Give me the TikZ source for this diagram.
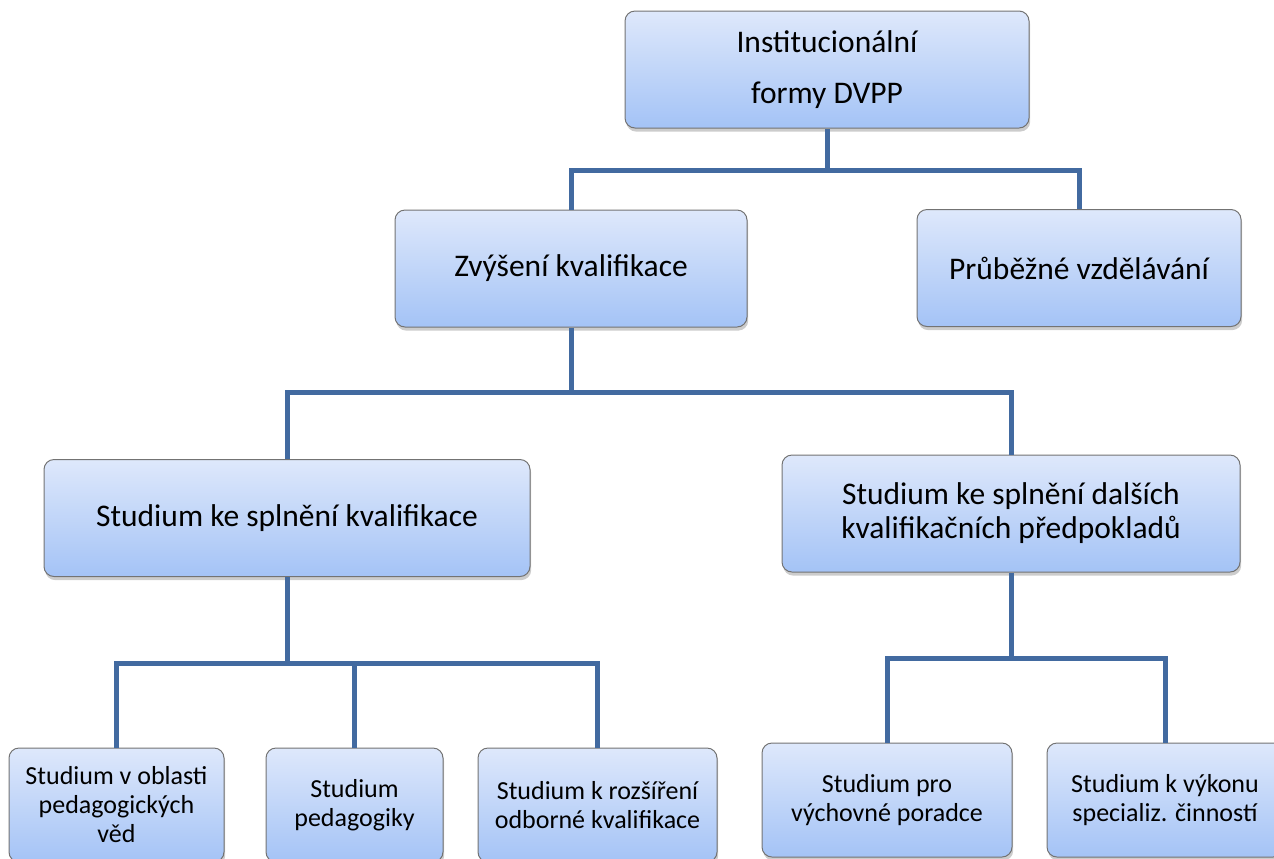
\documentclass[tikz,border=0pt]{standalone}
\usepackage{fontspec}
\setmainfont{Carlito}
\usetikzlibrary{shadows}
\definecolor{linka}{RGB}{66,106,160}
\definecolor{horni}{RGB}{222,232,251}
\definecolor{dolni}{RGB}{164,195,246}
\begin{document}
\begin{tikzpicture}[x=0.5pt,y=-0.5pt,
dvbox/.style={draw=black!55,line width=0.5pt,rounded corners=5pt,top color=horni,bottom color=dolni,
 drop shadow={shadow xshift=0.6pt,shadow yshift=-1.8pt,opacity=0.4},align=center,inner sep=2pt,
 minimum height=58.5pt,font=\fontsize{15.75}{17}\selectfont},
smallbox/.style={dvbox,minimum height=57pt,font=\fontsize{13}{14.5}\selectfont},
spoj/.style={draw=linka,line width=2.5pt}]
\useasboundingbox(0,0)rectangle(1274,858);
\clip(0,0)rectangle(1274,858);
\node[dvbox,minimum width=202pt,font=\fontsize{15.75}{25.5}\selectfont](inst)at(827,69.5){Institucionální\\formy DVPP};
\node[dvbox,minimum width=176pt](zvy)at(571,268.5){Zvýšení kvalifikace};
\node[dvbox,minimum width=162pt](prub)at(1079,268){Průběžné vzdělávání};
\node[dvbox,minimum width=243pt](skk)at(287,518){Studium ke splnění kvalifikace};
\node[dvbox,minimum width=229pt](sdk)at(1011,513.5){Studium ke splnění dalších\\kvalifikačních předpokladů};
\node[smallbox,minimum width=107.5pt](ped)at(116.5,805){Studium v oblasti\\pedagogických\\věd};
\node[smallbox,minimum width=88.5pt](pdg)at(354.5,805){Studium\\pedagogiky};
\node[smallbox,minimum width=119.5pt](roz)at(597.5,805){Studium k rozšíření\\odborné kvalifikace};
\node[smallbox,minimum width=125pt](por)at(887,800){Studium pro\\výchovné poradce};
\node[smallbox,minimum width=118pt](spc)at(1165,800){Studium k výkonu\\specializ. činností};
\coordinate(j1)at(827,170);
\coordinate(j2)at(571,392);
\coordinate(j3)at(287,663);
\coordinate(j4)at(1011,658);
\draw[spoj](inst)--(j1)(zvy)|-(j1)-|(prub);
\draw[spoj](zvy)--(j2)(skk)|-(j2)-|(sdk);
\draw[spoj](skk)--(j3)(ped)|-(j3)-|(roz)(pdg)--(pdg|-j3);
\draw[spoj](sdk)--(j4)(por)|-(j4)-|(spc);
\end{tikzpicture}
\end{document}
